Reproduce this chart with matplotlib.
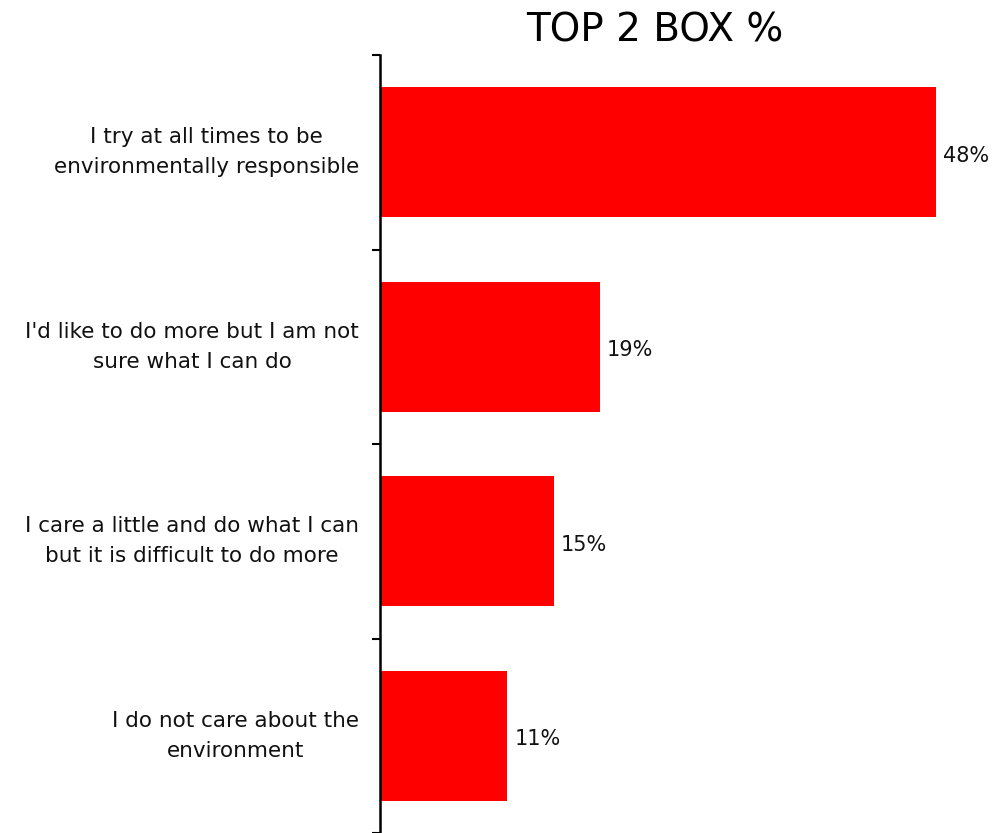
import numpy as np
import matplotlib.pyplot as plt

# survey answers and their top-2-box shares
categories = [
    "I try at all times to be\nenvironmentally responsible",
    "I'd like to do more but I am not\nsure what I can do",
    "I care a little and do what I can\nbut it is difficult to do more",
    "I do not care about the\nenvironment",
]
values = [48, 19, 15, 11]

plt.rcParams['font.family'] = ['DejaVu Sans']

fig = plt.figure(figsize=(9.95, 8.33), dpi=100)
ax = fig.add_axes([380 / 995, 0, 615 / 995, 778 / 833])

y = np.arange(len(categories))
ax.barh(y, values, height=0.67, color='#ff0000')

ax.set_xlim(0, 53.1)
ax.set_ylim(len(categories) - 0.5, -0.5)

# boundaries between categories get the tick marks
ax.set_yticks(np.arange(len(categories) + 1) - 0.5)
ax.set_yticklabels([])
ax.tick_params(axis='y', direction='out', length=6, width=1.5, color='black')
ax.set_xticks([])

for side in ['top', 'right', 'bottom']:
    ax.spines[side].set_visible(False)
ax.spines['left'].set_linewidth(1.8)

# category names, centred lines, right edge near the axis
for yi, label in zip(y, categories):
    ax.annotate(label, xy=(0, yi), xycoords=('axes fraction', 'data'),
                xytext=(-15, 0), textcoords='offset points',
                ha='right', va='center', multialignment='center',
                fontsize=15.5, linespacing=1.6, color='#111111')

# value labels
for yi, v in zip(y, values):
    ax.annotate(f"{v}%", xy=(v, yi), xytext=(5, -2.5), textcoords='offset points',
                ha='left', va='center', fontsize=15, color='#111111')

fig.text(655 / 995, 1 - 30 / 833, "TOP 2 BOX %", ha='center', va='center',
         fontsize=28, color='black')

fig.savefig('out.png', dpi=100)
